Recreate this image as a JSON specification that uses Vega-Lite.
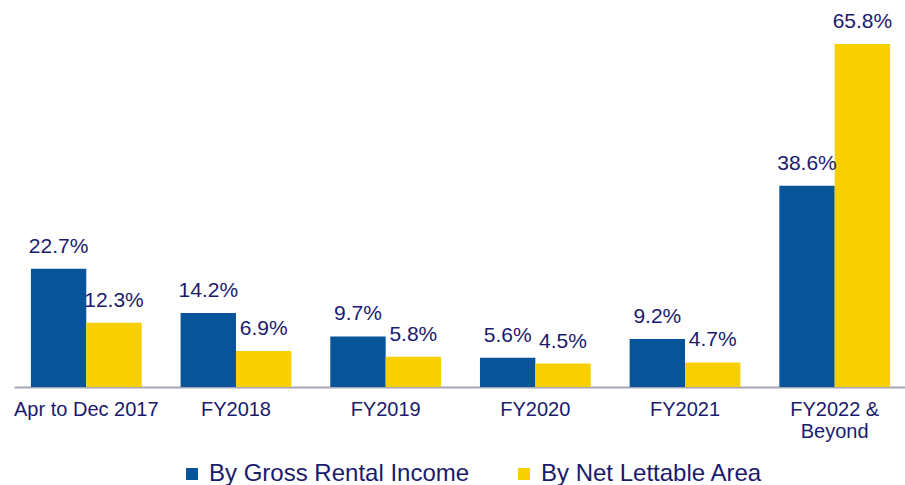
{
  "$schema": "https://vega.github.io/schema/vega-lite/v6.json",
  "width": 893,
  "height": 365,
  "autosize": "none",
  "padding": {"left": 14, "top": 22, "right": 0, "bottom": 98},
  "background": "white",
  "config": {"view": {"stroke": null}, "font": "Liberation Sans"},
  "data": {"values": [
    {"period": "Apr to Dec 2017", "series": "By Gross Rental Income", "value": 0.227},
    {"period": "Apr to Dec 2017", "series": "By Net Lettable Area", "value": 0.123},
    {"period": "FY2018", "series": "By Gross Rental Income", "value": 0.142},
    {"period": "FY2018", "series": "By Net Lettable Area", "value": 0.069},
    {"period": "FY2019", "series": "By Gross Rental Income", "value": 0.097},
    {"period": "FY2019", "series": "By Net Lettable Area", "value": 0.058},
    {"period": "FY2020", "series": "By Gross Rental Income", "value": 0.056},
    {"period": "FY2020", "series": "By Net Lettable Area", "value": 0.045},
    {"period": "FY2021", "series": "By Gross Rental Income", "value": 0.092},
    {"period": "FY2021", "series": "By Net Lettable Area", "value": 0.047},
    {"period": "FY2022 & Beyond", "series": "By Gross Rental Income", "value": 0.386},
    {"period": "FY2022 & Beyond", "series": "By Net Lettable Area", "value": 0.658}
  ]},
  "encoding": {
    "x": {
      "field": "period", "type": "nominal",
      "sort": ["Apr to Dec 2017", "FY2018", "FY2019", "FY2020", "FY2021", "FY2022 & Beyond"],
      "scale": {"paddingInner": 0.26, "paddingOuter": 0.113},
      "axis": {
        "title": null, "labelAngle": 0, "labelFontSize": 20, "labelColor": "#1a1a6e",
        "labelFont": "Liberation Sans", "ticks": false, "domainColor": "#a6a6b8", "domainWidth": 2,
        "labelPadding": 12, "labelLineHeight": 22, "labelLimit": 0,
        "labelExpr": "datum.label == 'FY2022 & Beyond' ? ['FY2022 &', 'Beyond'] : datum.label"
      }
    },
    "xOffset": {"field": "series", "type": "nominal", "sort": ["By Gross Rental Income", "By Net Lettable Area"]},
    "y": {
      "field": "value", "type": "quantitative",
      "scale": {"domain": [0, 0.70], "nice": false},
      "axis": null
    }
  },
  "layer": [
    {
      "mark": {"type": "bar"},
      "encoding": {
        "color": {
          "field": "series", "type": "nominal",
          "scale": {"domain": ["By Gross Rental Income", "By Net Lettable Area"], "range": ["#075598", "#f8d000"]},
          "legend": {
            "title": null, "orient": "none", "direction": "horizontal",
            "legendX": 166, "legendY": 440,
            "symbolType": "square", "symbolSize": 144, "symbolStrokeWidth": 0,
            "labelFontSize": 24, "labelColor": "#1a1a6e", "labelFont": "Liberation Sans",
            "labelOffset": 5, "columnPadding": 42, "labelLimit": 0
          }
        }
      }
    },
    {
      "mark": {"type": "text", "baseline": "alphabetic", "dy": -16, "fontSize": 21, "color": "#1a1a6e", "font": "Liberation Sans"},
      "encoding": {
        "text": {"field": "value", "type": "quantitative", "format": ".1%"}
      }
    }
  ]
}
